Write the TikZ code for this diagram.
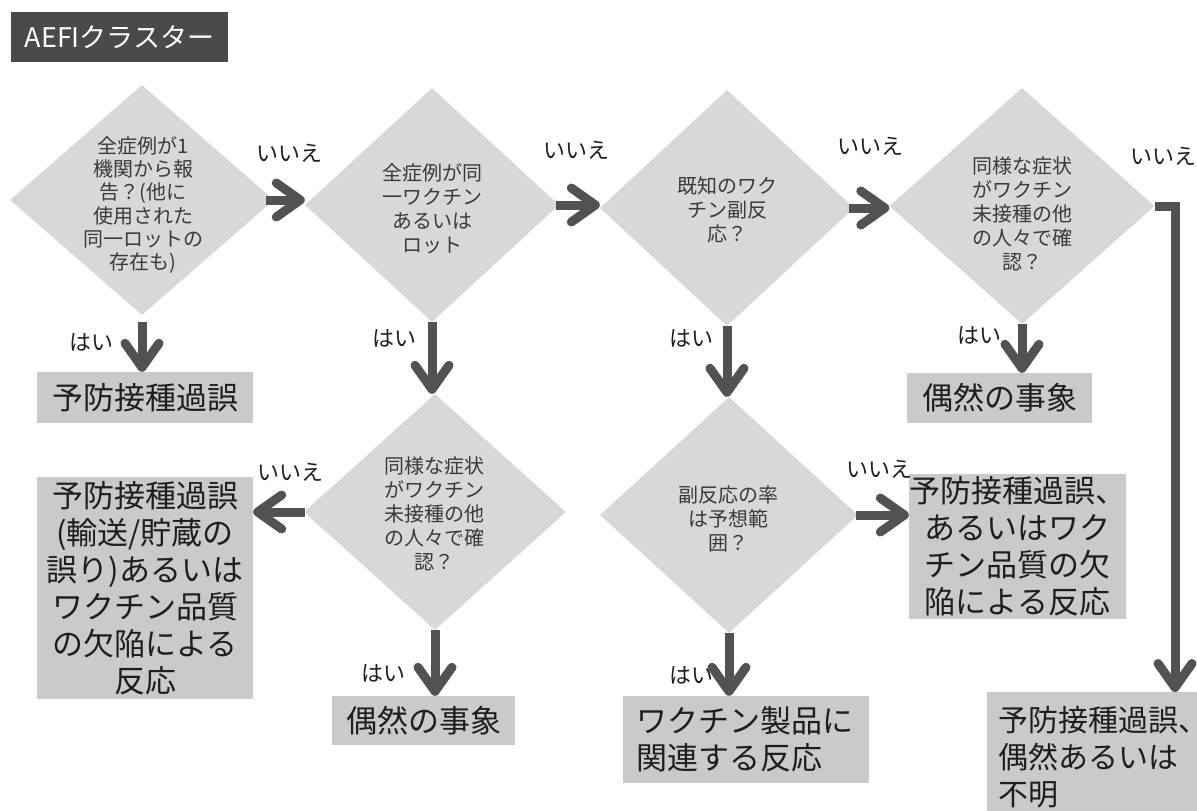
\documentclass[tikz,border=0pt]{standalone}
\usepackage{fontspec}
\setmainfont{Noto Sans CJK JP}
\usetikzlibrary{shapes.geometric,arrows.meta}
\definecolor{arrc}{HTML}{525252}
\definecolor{diafill}{HTML}{D8D8D8}
\definecolor{boxfill}{HTML}{CACACA}
\definecolor{titlefill}{HTML}{4A4A4A}
\definecolor{qcol}{HTML}{3A3A3A}
\definecolor{tcol}{HTML}{1E1E1E}
\begin{document}
\begin{tikzpicture}[x=1pt,y=-1pt,
  dia/.style={diamond,fill=diafill,draw=none,inner sep=0pt},
  qtext/.style={font=\fontsize{20}{24}\selectfont,align=center,text=qcol,inner sep=0pt},
  qtexta/.style={font=\fontsize{20}{23.3}\selectfont,align=center,text=qcol,inner sep=0pt},
  resbox/.style={rectangle,fill=boxfill,draw=none,text=tcol,inner sep=0pt,
    font=\fontsize{31}{37}\selectfont,align=center},
  lab/.style={font=\fontsize{22}{26}\selectfont,text=tcol,inner sep=0pt},
  arr/.style={draw=arrc,line width=9pt,-{Straight Barb[length=24pt,width=34pt,round]}},
  titlebox/.style={rectangle,fill=titlefill,text=white,inner sep=0pt,
    font=\fontsize{27}{30}\selectfont}
]
\useasboundingbox (0,0) rectangle (1197,811);
\fill[white] (0,0) rectangle (1197,811);

% title
\node[titlebox,minimum width=217pt,minimum height=50pt] (title) at (119.5,37) {AEFIクラスター};

% diamonds
\node[dia,minimum width=264pt,minimum height=230pt] (d1) at (142,200) {};
\node[dia,minimum width=254pt,minimum height=234pt] (d2) at (432,205) {};
\node[dia,minimum width=254pt,minimum height=236pt] (d3) at (727,208) {};
\node[dia,minimum width=265pt,minimum height=236pt] (d4) at (1022,206) {};
\node[dia,minimum width=262pt,minimum height=236pt] (d5) at (435,512) {};
\node[dia,minimum width=258pt,minimum height=236pt] (d6) at (729,515) {};

% diamond texts
\node[qtexta] (q1) at (143,205) {全症例が1\\機関から報\\告？(他に\\使用された\\同一ロットの\\存在も)};
\node[qtext] (q2) at (432,209) {全症例が同\\一ワクチン\\あるいは\\ロット};
\node[qtext] (q3) at (727,210) {既知のワク\\チン副反\\応？};
\node[qtext] (q4) at (1022,214) {同様な症状\\がワクチン\\未接種の他\\の人々で確\\認？};
\node[qtext] (q5) at (434,514) {同様な症状\\がワクチン\\未接種の他\\の人々で確\\認？};
\node[qtext] (q6) at (728,519) {副反応の率\\は予想範\\囲？};

% result boxes
\node[resbox,minimum width=216pt,minimum height=51pt] (b1) at (145,397.5) {予防接種過誤};
\node[resbox,minimum width=185pt,minimum height=50pt] (b2) at (999.5,398) {偶然の事象};
\node[resbox,minimum width=216pt,minimum height=222pt] (b3) at (145,588) {予防接種過誤\\(輸送/貯蔵の\\誤り)あるいは\\ワクチン品質\\の欠陥による\\反応};
\node[resbox,minimum width=183pt,minimum height=49pt] (b4) at (423.5,720.5) {偶然の事象};
\node[resbox,minimum width=217pt,minimum height=145pt] (b5) at (1017.5,546.5) {予防接種過誤、\\あるいはワク\\チン品質の欠\\陥による反応};
\node[resbox,minimum width=246pt,minimum height=87pt,text width=220pt,inner xsep=13pt,align=left] (b6) at (746,739.5) {ワクチン製品に\\関連する反応};
\node[resbox,anchor=north west,minimum width=260pt,minimum height=130pt,text width=238pt,inner xsep=11pt,align=left,font=\fontsize{30}{37}\selectfont] (b7) at (987,692) {予防接種過誤、\\偶然あるいは\\不明};

% connectors: no
\draw[arr] ([xshift=-8pt]d1.east) -- (d1.east -| d2.west);
\draw[arr] ([xshift=-3pt]d2.east) -- (d2.east -| d3.west);
\draw[arr] ([xshift=-5pt]d3.east) -- (d3.east -| d4.west);
\draw[arr] (d4.east) -| ([xshift=188pt]b7.north west);
\draw[arr] ([xshift=1pt]d5.west) -- (d5.west -| b3.east);
\draw[arr] ([xshift=-2pt]d6.east) -- (d6.east -| b5.west);

% connectors: yes
\draw[arr,shorten <=7pt] (d1.south) -- (d1.south |- b1.north);
\draw[arr] (d2.south) -- (d2.south |- d5.north);
\draw[arr] (d3.south) -- (d3.south |- d6.north);
\draw[arr] (d4.south) -- (d4.south |- b2.north);
\draw[arr] (d5.south) -- (d5.south |- b4.north);
\draw[arr] (d6.south) -- (d6.south |- b6.north);

% labels
\node[lab] (n1) at (289,153) {いいえ};
\node[lab] (n2) at (576,150) {いいえ};
\node[lab] (n3) at (870,146) {いいえ};
\node[lab] (n4) at (1163,156) {いいえ};
\node[lab] (n5) at (290,472) {いいえ};
\node[lab] (n6) at (879,469) {いいえ};
\node[lab] (y1) at (91,342) {はい};
\node[lab] (y2) at (394,338) {はい};
\node[lab] (y3) at (691,338) {はい};
\node[lab] (y4) at (979,335) {はい};
\node[lab] (y5) at (383,673) {はい};
\node[lab] (y6) at (691,675) {はい};
\end{tikzpicture}
\end{document}
